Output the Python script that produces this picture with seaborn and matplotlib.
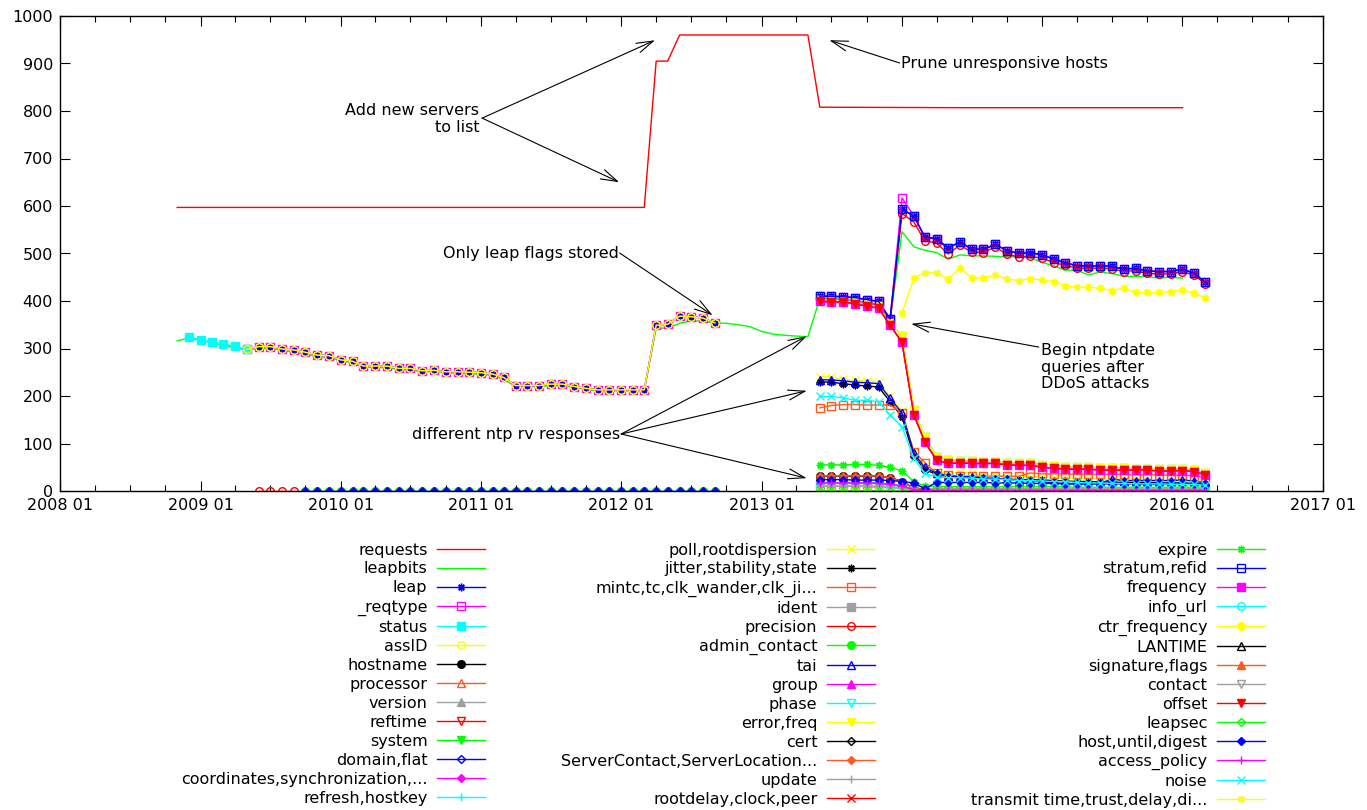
import matplotlib
matplotlib.use("Agg")
import matplotlib.pyplot as plt
import matplotlib.dates as mdates
from matplotlib.lines import Line2D
import pandas as pd
import seaborn as sns

# ---------------- data (monthly samples) ----------------
NAMES = [
    "requests", "leapbits", "leap", "_reqtype", "status", "assID", "hostname",
    "processor", "version", "reftime", "system", "domain,flat",
    "coordinates,synchronization,...", "refresh,hostkey",
    "poll,rootdispersion", "jitter,stability,state", "mintc,tc,clk_wander,clk_ji...",
    "ident", "precision", "admin_contact", "tai", "group", "phase", "error,freq",
    "cert", "ServerContact,ServerLocation...", "update", "rootdelay,clock,peer",
    "expire", "stratum,refid", "frequency", "info_url", "ctr_frequency", "LANTIME",
    "signature,flags", "contact", "offset", "leapsec", "host,until,digest",
    "access_policy", "noise", "transmit time,trust,delay,di...",
]

REQ_DATES = ["2008-11-01", "2012-03-01", "2012-04-01", "2012-05-01", "2012-06-01",
             "2013-05-01", "2013-06-01", "2014-06-01", "2016-01-01"]
REQ_VALS = [597, 597, 905, 905, 960, 960, 808, 807, 807]

# leapbits, 2008-11 .. 2016-01
LEAPBITS = [316, 322,
            317, 312, 307, 301, 297, 300, 301, 296, 292, 288, 283, 281,
            274, 270, 261, 260, 260, 256, 255, 251, 252, 249, 248, 247,
            246, 243, 236, 220, 220, 220, 222, 222, 218, 214, 211, 211,
            211, 211, 211, 343, 343, 353, 358, 358, 354, 353, 350, 346,
            336, 330, 328, 326, 325, 405, 405, 404, 401, 397, 393, 358,
            546, 514, 507, 502, 488, 497, 495, 495, 494, 493, 493, 491,
            481, 474, 465, 465, 455, 461, 458, 452, 452, 451, 448, 450,
            448]

# first period, 2009-05 .. 2012-09
A_TOP = [298, 304, 304, 299, 297, 292, 286, 285,
         276, 273, 263, 263, 263, 258, 258, 253, 254, 251, 251, 250,
         249, 246, 239, 222, 222, 222, 225, 225, 220, 216, 213, 213,
         213, 213, 213, 349, 351, 368, 367, 364, 354]
STATUS = [325, 318, 314, 309, 305, 298]          # 2008-12 .. 2009-05
A_ZERO_RED = [0, 0, 0, 0]                        # 2009-06 .. 2009-09
A_ZERO = [0, 0, 0, 0, 0, 0, 0, 0, 0, 0, 0, 0,    # 2009-10 .. 2012-09
          0, 0, 0, 0, 0, 0, 0, 0, 0, 0, 0, 0,
          0, 0, 0, 0, 0, 0, 0, 0, 0, 0, 0, 0]

# second period, 2013-06 .. 2016-03
B_TOP = [410, 410, 409, 407, 403, 399, 362,
         593, 579, 535, 531, 511, 525, 509, 509, 519, 506, 500, 502,
         497, 488, 481, 474, 474, 474, 473, 467, 469, 463, 462, 462,
         467, 458, 439]
B_REQTYPE = [410, 410, 409, 407, 403, 399, 362,
             617, 579, 535, 531, 511, 525, 509, 509, 519, 506, 500, 502,
             497, 488, 481, 474, 474, 474, 473, 467, 469, 463, 462, 462,
             467, 458, 439]
B_PREC = [402, 402, 401, 399, 395, 391, 355,
          584, 566, 527, 522, 499, 518, 503, 502, 514, 498, 493, 494,
          490, 481, 475, 469, 469, 469, 468, 462, 464, 458, 457, 457,
          462, 454, 436]
B_RED = [399, 398, 398, 394, 389, 385, 349,
         313, 160, 104, 65, 58, 59, 58, 58, 58, 55, 54, 54,
         50, 48, 46, 46, 46, 44, 44, 44, 44, 44, 42, 42,
         43, 41, 34]
B_SYS = [403, 402, 401, 398, 393, 389, 353,
         327, 171, 114, 72, 65, 64, 63, 62, 62, 60, 59, 58,
         55, 53, 51, 50, 50, 48, 48, 48, 47, 47, 46, 46,
         46, 45, 38]
B_POLL = [241, 240, 236, 233, 232, 230, 200,
          168, 82, 52, 40, 36, 40, 38, 33, 32, 30, 30, 30,
          29, 28, 27, 26, 26, 25, 25, 25, 24, 24, 23, 23,
          23, 22, 20]
B_JITTER = [230, 229, 226, 223, 221, 219, 188,
            156, 74, 45, 35, 30, 30, 28, 27, 26, 25, 24, 24,
            23, 22, 21, 20, 20, 19, 19, 18, 18, 18, 17, 17,
            17, 16, 14]
B_TAI = [234, 234, 232, 229, 228, 226, 195,
         164, 79, 50, 37, 32, 30, 30, 27, 26, 25, 22, 22,
         20, 17, 16, 15, 15, 16, 25, 22, 22, 22, 22, 22,
         23, 21, 17]
B_NOISE = [199, 199, 196, 191, 191, 188, 160,
           135, 69, 37, 30, 28, 28, 27, 25, 25, 24, 22, 22,
           21, 20, 20, 18, 17, 17, 16, 16, 15, 15, 15, 14,
           14, 14, 12]
B_MINTC = [175, 180, 182, 182, 181, 181, 181,
           164, 83, 60, 37, 33, 31, 31, 31, 31, 31, 31, 38,
           36, 36, 36, 35, 35, 35, 35, 35, 34, 34, 34, 33,
           33, 32, 28]
B_EXPIRE = [55, 55, 55, 56, 56, 54, 50,
            42, 20, 10, 10, 9, 9, 9, 9, 9, 9, 9, 9,
            9, 9, 9, 8, 8, 8, 8, 8, 8, 8, 8, 8,
            8, 8, 8]
B_LOW30 = [32, 32, 32, 32, 32, 31, 28,
           20, 6, 3, 3, 3, 3, 3, 3, 3, 3, 3, 3,
           3, 3, 3, 3, 3, 3, 3, 3, 3, 3, 3, 3,
           3, 3, 3]
B_HOST = [24, 24, 24, 23, 23, 23, 22,
          20, 17, 5, 18, 18, 18, 18, 18, 17, 17, 17, 16,
          16, 16, 15, 15, 15, 15, 15, 15, 15, 14, 14, 14,
          14, 14, 13]
B_LOW15 = [17, 17, 17, 17, 17, 16, 14,
           10, 3, 1, 1, 1, 1, 1, 1, 1, 1, 1, 1,
           1, 1, 1, 1, 1, 1, 1, 1, 1, 1, 1, 1,
           1, 1, 1]
B_LOW8 = [10, 10, 10, 10, 10, 9, 8,
          6, 2, 0, 0, 0, 0, 0, 0, 0, 0, 0, 0,
          0, 0, 0, 0, 0, 0, 0, 0, 0, 0, 0, 0,
          0, 0, 0]
B_ZERO = A_ZERO[:34]
B_TRANSMIT = [375, 448, 460, 460, 446, 469, 449, 448, 455, 446, 443, 447,   # 2014-01 ..
              444, 441, 432, 429, 429, 427, 422, 427, 418, 418, 418, 420,
              423, 416, 406]

B = "2013-06-01"
SEGMENTS = {
    "leap": [("2009-05-01", A_TOP), (B, B_TOP)],
    "_reqtype": [("2009-05-01", A_TOP), (B, B_REQTYPE)],
    "status": [("2008-12-01", STATUS)],
    "assID": [("2009-05-01", A_TOP)],
    "hostname": [(B, B_LOW30)],
    "processor": [(B, B_LOW30)],
    "version": [(B, B_LOW8)],
    "reftime": [(B, B_ZERO)],
    "system": [(B, B_SYS)],
    "domain,flat": [(B, B_LOW15)],
    "coordinates,synchronization,...": [(B, B_RED)],
    "refresh,hostkey": [(B, B_LOW8)],
    "poll,rootdispersion": [(B, B_POLL)],
    "jitter,stability,state": [(B, B_JITTER)],
    "mintc,tc,clk_wander,clk_ji...": [(B, B_MINTC)],
    "ident": [(B, B_LOW8)],
    "precision": [("2009-06-01", A_ZERO_RED), (B, B_PREC)],
    "admin_contact": [("2009-10-01", A_ZERO), (B, B_ZERO)],
    "tai": [(B, B_TAI)],
    "group": [(B, B_LOW15)],
    "phase": [(B, B_LOW15)],
    "error,freq": [(B, B_SYS)],
    "cert": [(B, B_ZERO)],
    "ServerContact,ServerLocation...": [(B, B_LOW30)],
    "update": [(B, B_LOW8)],
    "rootdelay,clock,peer": [(B, B_ZERO)],
    "expire": [(B, B_EXPIRE)],
    "stratum,refid": [(B, B_TOP)],
    "frequency": [(B, B_RED)],
    "info_url": [(B, B_LOW8)],
    "ctr_frequency": [(B, B_ZERO)],
    "LANTIME": [(B, B_LOW30)],
    "signature,flags": [(B, B_LOW30)],
    "contact": [(B, B_LOW8)],
    "offset": [(B, B_RED)],
    "leapsec": [(B, B_ZERO)],
    "host,until,digest": [("2009-10-01", A_ZERO), (B, B_HOST)],
    "access_policy": [(B, B_LOW15)],
    "noise": [(B, B_NOISE)],
    "transmit time,trust,delay,di...": [("2014-01-01", B_TRANSMIT)],
}

# gnuplot-like style cycles
COLORS = ["#ff0000", "#00ff00", "#0000ff", "#ff00ff", "#00ffff",
          "#ffff00", "#000000", "#ff5a1e", "#a0a0a0"]
ASTER = (8, 2, 0)
MARKERS = [("+", True), ("x", True), (ASTER, True), ("s", False), ("s", True),
           ("o", False), ("o", True), ("^", False), ("^", True), ("v", False),
           ("v", True), ("D", False), ("D", True)]


def style(k):
    color = COLORS[k % 9]
    kw = dict(color=color, lw=1.0)
    if k >= 2:
        m, filled = MARKERS[k % 13]
        size = 4.5 if m == "D" else 5.5
        kw.update(marker=m, markersize=size, markeredgecolor=color,
                  markerfacecolor=color if filled else "none", markeredgewidth=1.0)
    return kw


fig = plt.figure(figsize=(13.67, 8.10), dpi=100)
ax = fig.add_axes([60 / 1367, 1 - 491 / 810, 1263 / 1367, 475 / 810])

req = pd.DataFrame({"month": pd.to_datetime(REQ_DATES), "value": REQ_VALS})
sns.lineplot(data=req, x="month", y="value", ax=ax, legend=False, zorder=2, **style(0))
lb = pd.DataFrame({"month": pd.date_range("2008-11-01", periods=len(LEAPBITS), freq="MS"),
                   "value": LEAPBITS})
sns.lineplot(data=lb, x="month", y="value", ax=ax, legend=False, zorder=2.01, **style(1))

for k, name in enumerate(NAMES[2:], start=2):
    for start, vals in SEGMENTS[name]:
        df = pd.DataFrame({"month": pd.date_range(start, periods=len(vals), freq="MS"),
                           "value": vals})
        sns.lineplot(data=df, x="month", y="value", ax=ax, legend=False,
                     zorder=2 + k * 0.01, **style(k))

# axes
ax.set_xlim(pd.Timestamp("2008-01-01"), pd.Timestamp("2017-01-01"))
ax.set_ylim(0, 1000)
ax.set_yticks(range(0, 1001, 100))
ax.xaxis.set_major_locator(mdates.YearLocator())
ax.xaxis.set_major_formatter(mdates.DateFormatter("%Y %m"))
ax.xaxis.set_minor_locator(mdates.MonthLocator(bymonth=[4, 7, 10]))
ax.set_xlabel("")
ax.set_ylabel("")
ax.tick_params(which="both", direction="in", top=True, right=True,
               labelsize=11.5, width=0.8, color="black", pad=5)
ax.tick_params(which="major", length=7)
ax.tick_params(which="minor", length=4.3)
for s in ax.spines.values():
    s.set_linewidth(1.0)
    s.set_color("black")

# annotations
arrow = dict(arrowstyle="->,head_length=1.0,head_width=0.3", color="black",
             lw=0.8, shrinkA=0, shrinkB=0, mutation_scale=12)
T = pd.Timestamp
ax.text(T("2010-12-28"), 783, "Add new servers\nto list", ha="right", va="center",
        multialignment="right", fontsize=11.5, linespacing=1.15)
for head in [(T("2012-03-29"), 949), (T("2011-12-27"), 650)]:
    ax.annotate("", xy=head, xytext=(T("2011-01-04"), 785), arrowprops=arrow)
ax.text(T("2013-12-30"), 901, "Prune unresponsive hosts", ha="left", va="center",
        fontsize=11.5)
ax.annotate("", xy=(T("2013-06-26"), 949), xytext=(T("2013-12-26"), 901), arrowprops=arrow)
ax.text(T("2011-12-25"), 501, "Only leap flags stored", ha="right", va="center",
        fontsize=11.5)
ax.annotate("", xy=(T("2012-08-26"), 370), xytext=(T("2011-12-28"), 501), arrowprops=arrow)
ax.text(T("2014-12-29"), 261, "Begin ntpdate\nqueries after\nDDoS attacks", ha="left",
        va="center", fontsize=11.5, linespacing=1.15)
ax.annotate("", xy=(T("2014-01-25"), 352), xytext=(T("2014-12-23"), 303), arrowprops=arrow)
ax.text(T("2011-12-28"), 120, "different ntp rv responses", ha="right", va="center",
        fontsize=11.5)
for v in [326, 211, 27]:
    ax.annotate("", xy=(T("2013-04-28"), v), xytext=(T("2012-01-01"), 120), arrowprops=arrow)

# legend: three right-aligned columns of 14 entries
handles = [Line2D([], [], **style(k)) for k in range(len(NAMES))]
for col, xr in enumerate([485, 875, 1265]):
    sl = slice(col * 14, col * 14 + 14)
    fig.legend(handles[sl], NAMES[sl], loc="upper right",
               bbox_to_anchor=(xr / 1367, 1 - 542.5 / 810), frameon=False,
               markerfirst=False, fontsize=11.5, handlelength=3.0,
               handletextpad=0.6, labelspacing=0.25, borderpad=0,
               borderaxespad=0, numpoints=1)

fig.savefig("out.png", dpi=100)
